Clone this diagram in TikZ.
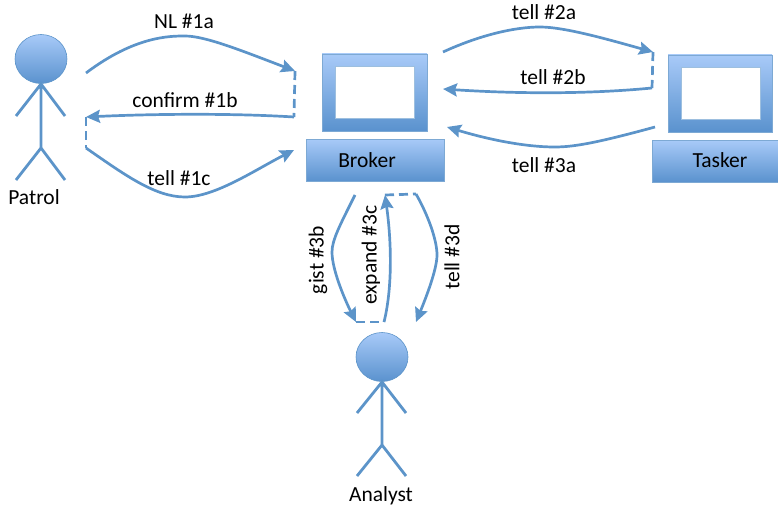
\documentclass[tikz,border=0pt]{standalone}
\usepackage{fontspec}
\setmainfont{Carlito}
\usetikzlibrary{arrows.meta,shapes.geometric,shadows}
\definecolor{linkblue}{HTML}{5C94C9}
\definecolor{topblue}{HTML}{A8CAF8}
\definecolor{lowblue}{HTML}{5A92CE}
\tikzset{
	every node/.style={font=\fontsize{21.5}{25}\selectfont, inner sep=0pt},
	head/.style={ellipse, draw=linkblue, line width=0.6pt, top color=topblue, bottom color=lowblue, minimum width=52pt, minimum height=49pt},
	limb/.style={draw=linkblue, line width=2.8pt},
	screen/.style={rectangle, draw=linkblue!80, line width=0.5pt, top color=topblue, bottom color=lowblue, drop shadow={opacity=0.25, shadow xshift=0.5pt, shadow yshift=-1pt}},
	glass/.style={rectangle, draw=linkblue!60, line width=0.8pt, fill=white, minimum width=79pt, minimum height=52pt, drop shadow={opacity=0.4, shadow xshift=0pt, shadow yshift=-1.2pt}},
	flow/.style={draw=linkblue, line width=2.7pt, -{Stealth[length=14pt,width=13pt,inset=2pt]}},
	hop/.style={draw=linkblue, line width=2.7pt, dash pattern=on 9pt off 5pt},
}
\begin{document}
\begin{tikzpicture}[x=1pt, y=-1pt]
	\useasboundingbox (0,0) rectangle (778,508);
	% patrol
	\node[head] (patrol) at (41,59) {};
	\coordinate (pneck) at (41,84);
	\coordinate (phip) at (41,148);
	\coordinate (pha) at (16,116);
	\coordinate (phb) at (65,116);
	\coordinate (pfa) at (16,180);
	\coordinate (pfb) at (65,180);
	\draw[limb] (pneck)--(phip) (pha)--(pneck)--(phb) (pfa)--(phip)--(pfb);
	\node (patrolname) at (34,197) {Patrol};
	% analyst
	\node[head] (analyst) at (382,357) {};
	\coordinate (aneck) at (382,382);
	\coordinate (ahip) at (382,445);
	\coordinate (aha) at (357,413);
	\coordinate (ahb) at (406,413);
	\coordinate (afa) at (357,476);
	\coordinate (afb) at (406,476);
	\draw[limb] (aneck)--(ahip) (aha)--(aneck)--(ahb) (afa)--(ahip)--(afb);
	\node (analystname) at (381,496) {Analyst};
	% broker
	\node[screen, minimum width=105pt, minimum height=77pt] (brokerscreen) at (374.5,92.5) {};
	\node[glass] (brokerglass) at (374.5,92) {};
	\node[screen, minimum width=138pt, minimum height=42pt] (brokerbox) at (375,160) {};
	\node (brokername) at (367,160) {Broker};
	% tasker
	\node[screen, minimum width=104pt, minimum height=77pt] (taskerscreen) at (720,93.5) {};
	\node[glass] (taskerglass) at (720.5,93) {};
	\node[screen, minimum width=128pt, minimum height=42pt] (taskerbox) at (716,161) {};
	\node (taskername) at (720,160) {Tasker};
	% ends of the links
	\coordinate (pa) at (86,73);
	\coordinate (pb) at (86,117);
	\coordinate (pc) at (86,148);
	\coordinate (ba) at (295,71);
	\coordinate (bb) at (294,117);
	\coordinate (bc) at (294,150);
	\coordinate (bd) at (443,52);
	\coordinate (be) at (443,89);
	\coordinate (bf) at (447,127);
	\coordinate (ta) at (653,52);
	\coordinate (tb) at (652,88);
	\coordinate (tc) at (655,127);
	\coordinate (ga) at (355,195);
	\coordinate (gb) at (356,322);
	\coordinate (gc) at (384,322);
	\coordinate (gd) at (385,195);
	\coordinate (ge) at (416,194);
	\coordinate (gf) at (416,322);
	% patrol and broker
	\draw[flow] (pa) .. controls (135,36) and (170,36) .. (185,36) .. controls (205,36) and (240,50) .. (ba);
	\draw[hop] (ba)--(bb);
	\draw[flow] (bb) .. controls (230,113) and (150,114) .. (pb);
	\draw[hop] (pb)--(pc);
	\draw[flow] (pc) .. controls (125,175) and (155,197) .. (185,197) .. controls (215,197) and (255,170) .. (bc);
	% broker and tasker
	\draw[flow] (bd) .. controls (480,35) and (515,27) .. (540,27) .. controls (565,27) and (610,40) .. (ta);
	\draw[hop] (ta)--(tb);
	\draw[flow] (tb) .. controls (590,94) and (520,94) .. (be);
	\draw[flow] (tc) .. controls (600,142) and (575,147) .. (555,147) .. controls (520,147) and (480,137) .. (bf);
	% broker and analyst
	\draw[flow] (ga) .. controls (340,225) and (332,240) .. (332,252) .. controls (332,270) and (345,300) .. (gb);
	\draw[hop] (gb)--(gc);
	\draw[flow] (gc) .. controls (392,290) and (392,245) .. (gd);
	\draw[hop] (gd)--(ge);
	\draw[flow] (ge) .. controls (428,215) and (437,240) .. (437,255) .. controls (437,270) and (425,300) .. (gf);
	% labels
	\node (nla) at (184,21) {NL \#1a};
	\node (confirmb) at (185,100) {confirm \#1b};
	\node (tellc) at (179,178) {tell \#1c};
	\node (tellta) at (544,12) {tell \#2a};
	\node (telltb) at (553,77) {tell \#2b};
	\node (tellua) at (544,165) {tell \#3a};
	\node[rotate=90] (gistb) at (318,260) {gist \#3b};
	\node[rotate=90] (expandc) at (371,255) {expand \#3c};
	\node[rotate=90] (telld) at (452,257) {tell \#3d};
\end{tikzpicture}
\end{document}
